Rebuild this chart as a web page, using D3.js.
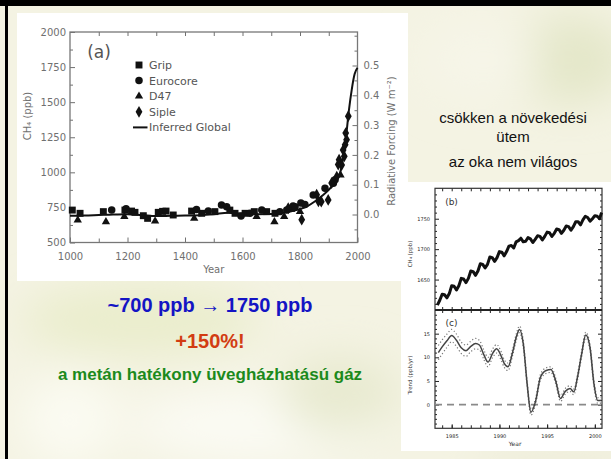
<!DOCTYPE html>
<html><head><meta charset="utf-8">
<script src="https://cdn.jsdelivr.net/npm/d3@7"></script>
<style>html,body{margin:0;padding:0;background:#f3f2e1;} svg{display:block;}</style>
</head><body><svg id="c" width="611" height="459"></svg>
<script>
// ---------------- DATA ----------------
// Panel (a): ice-core CH4 (ppb) by year
const gripYears = [1008,1035,1116,1191,1214,1226,1255,1270,1307,1322,1334,1359,1423,1458,1504,1556,1574,1609,1641,1684,1713,1771];
const gripCH4   = [731,708,720,731,724,715,691,672,715,722,724,696,724,708,720,731,708,708,720,720,708,743];
const euroYears = [1145,1195,1440,1481,1527,1545,1595,1626,1667,1730,1754,1776,1783,1803,1817,1846,1887,1916,1922];
const euroCH4   = [731,740,735,724,767,755,689,708,731,720,731,760,755,781,770,838,886,922,948];
const d47Years  = [1027,1125,1189,1296,1432,1649,1711,1745,1800,1941];
const d47CH4    = [660,648,684,653,672,684,648,684,720,981];
const sipleYears = [1759,1806,1858,1864,1874,1898,1910,1928,1933,1936,1945,1950,1954,1957,1959,1962,1968];
const sipleCH4   = [744,663,841,794,791,803,924,969,1055,1090,1052,1159,1114,1197,1280,1233,1400];
const globalYears = [1000,1050,1100,1150,1200,1250,1300,1350,1400,1450,1500,1550,1600,1650,1700,1750,1800,1825,1850,1875,1900,1920,1940,1950,1960,1970,1980,1990,2000];
const globalCH4   = [690,692,696,700,702,695,688,690,692,695,702,712,705,702,703,715,738,758,790,830,875,925,1000,1100,1250,1440,1590,1700,1745];
const legendLabels = ["Grip","Eurocore","D47","Siple","Inferred Global"];
const aYTicks = [500,750,1000,1250,1500,1750,2000];
const aXTicks = [1000,1200,1400,1600,1800,2000];
const rfTicks = [0,0.1,0.2,0.3,0.4,0.5];

// Panel (b): atmospheric CH4 (ppb), quarterly
const bYears = [1983.5,1983.75,1984,1984.25,1984.5,1984.75,1985,1985.25,1985.5,1985.75,1986,1986.25,1986.5,1986.75,1987,1987.25,1987.5,1987.75,1988,1988.25,1988.5,1988.75,1989,1989.25,1989.5,1989.75,1990,1990.25,1990.5,1990.75,1991,1991.25,1991.5,1991.75,1992,1992.25,1992.5,1992.75,1993,1993.25,1993.5,1993.75,1994,1994.25,1994.5,1994.75,1995,1995.25,1995.5,1995.75,1996,1996.25,1996.5,1996.75,1997,1997.25,1997.5,1997.75,1998,1998.25,1998.5,1998.75,1999,1999.25,1999.5,1999.75,2000,2000.25,2000.5,2000.7];
const bCH4 = [1608,1616,1626,1625,1620,1627,1640,1639,1633,1640,1652,1651,1645,1652,1664,1663,1657,1664,1676,1675,1669,1675,1687,1686,1680,1686,1696,1695,1689,1696,1705,1706,1702,1712,1714,1718,1712,1713,1719,1717,1711,1716,1722,1721,1715,1721,1728,1727,1721,1726,1733,1732,1726,1731,1738,1737,1731,1737,1745,1745,1740,1748,1754,1752,1746,1750,1755,1754,1750,1760];
const bYTicks = [1650,1700,1750];

// Panel (c): growth-rate trend (ppb/yr) with uncertainty
const cYears = [1983.6,1984.0,1984.5,1985.0,1985.5,1986.0,1986.5,1987.0,1987.5,1987.9,1988.4,1988.8,1989.3,1989.7,1990.2,1990.5,1990.9,1991.4,1991.8,1992.1,1992.5,1992.9,1993.3,1993.8,1994.3,1994.9,1995.4,1995.9,1996.4,1996.9,1997.4,1997.8,1998.2,1998.6,1999.05,1999.5,1999.9,2000.3,2000.65];
const cTrend = [11.0,12.2,13.5,14.6,13.6,12.0,11.4,12.3,12.9,12.6,10.4,9.0,10.9,11.8,10.2,8.7,8.0,11.2,14.5,15.9,12.9,4.5,-1.6,0.8,5.8,7.2,7.4,5.0,1.3,2.8,3.4,2.7,6.0,10.5,14.7,12.0,4.5,0.9,0.9];
const cUnc = [1.5,1.5,1.4,1.3,1.3,1.2,1.2,1.1,1.1,1.0,1.0,1.0,0.9,0.9,0.9,0.8,0.8,0.7,0.7,0.7,0.7,0.6,0.6,0.6,0.6,0.6,0.6,0.6,0.6,0.6,0.6,0.6,0.6,0.6,0.6,0.6,0.6,0.6,0.6];
const cYTicks = [0,5,10,15];
const bcXTicks = [1985,1990,1995,2000];

// Slide texts
const sideText = ["csökken a növekedési","ütem","az oka nem világos"];
const mainText = ["~700 ppb \u2192 1750 ppb","+150%!","a metán hatékony üvegházhatású gáz"];

// ---------------- DRAW ----------------
const svg = d3.select("#c");
const defs = svg.append("defs");
defs.append("filter").attr("id","blur").attr("x","-50%").attr("y","-50%").attr("width","200%").attr("height","200%")
  .append("feGaussianBlur").attr("stdDeviation",22);

svg.append("rect").attr("width",611).attr("height",459).attr("fill","#f4f3e3");
const blobs = svg.append("g").attr("filter","url(#blur)");
[[570,60,60,45,"#e4e7c9"],[140,320,120,35,"#eaedcc"],[260,425,130,35,"#fbfbf4"],[70,420,50,45,"#fbfbf2"],[340,395,60,40,"#e8ead0"],[560,470,90,30,"#efeedb"],[480,60,60,40,"#f6f5e8"]]
  .forEach(b => blobs.append("ellipse").attr("cx",b[0]).attr("cy",b[1]).attr("rx",b[2]).attr("ry",b[3]).attr("fill",b[4]));

// white image areas
svg.append("rect").attr("x",17).attr("y",13).attr("width",391).attr("height",268).attr("fill","#ffffff");
svg.append("rect").attr("x",401).attr("y",182).attr("width",210).attr("height",269).attr("fill","#ffffff");

// black frame
svg.append("rect").attr("x",0).attr("y",0).attr("width",611).attr("height",6).attr("fill","#000");
svg.append("rect").attr("x",5).attr("y",0).attr("width",3).attr("height",459).attr("fill","#000");

const FA = "DejaVu Sans, Verdana, sans-serif";
function styleAxis(g, color, fs, font){
  g.select(".domain").remove();
  g.attr("font-family", font).attr("font-size", fs);
  g.selectAll("line").attr("stroke", color).attr("stroke-width", 1);
  g.selectAll("text").attr("fill", color);
  return g;
}

// ---- Panel (a)
const xA = d3.scaleLinear().domain([1000,2000]).range([70,357.5]);
const yA = d3.scaleLinear().domain([500,2000]).range([242.5,32]);
const yRF = d3.scaleLinear().domain([0,0.5]).range([214.5,65.5]);
const gA = svg.append("g");
const axC = "#707070";
gA.append("g").attr("transform","translate(70,0)").call(d3.axisLeft(yA).tickValues(aYTicks).tickSize(-5).tickPadding(4).tickFormat(d3.format("d"))).call(g=>styleAxis(g,axC,10,FA));
gA.append("g").attr("transform","translate(70,0)").call(d3.axisLeft(yA).tickValues([625,875,1125,1375,1625,1875]).tickSize(-3).tickFormat("")).call(g=>styleAxis(g,axC,10,FA));
gA.append("g").attr("transform","translate(0,242.5)").call(d3.axisBottom(xA).tickValues(aXTicks).tickSize(-5).tickPadding(10).tickFormat(d3.format("d"))).call(g=>styleAxis(g,axC,10,FA));
gA.append("g").attr("transform","translate(0,242.5)").call(d3.axisBottom(xA).tickValues([1100,1300,1500,1700,1900]).tickSize(-4).tickFormat("")).call(g=>styleAxis(g,axC,10,FA));
gA.append("g").attr("transform","translate(0,32)").call(d3.axisTop(xA).tickValues([1100,1200,1300,1400,1500,1600,1700,1800,1900]).tickSize(-4).tickFormat("")).call(g=>styleAxis(g,axC,10,FA));
gA.append("g").attr("transform","translate(357.5,0)").call(d3.axisRight(yRF).tickValues(rfTicks).tickSize(-5).tickPadding(6).tickFormat(d3.format(".1f"))).call(g=>styleAxis(g,axC,10,FA));
gA.append("g").attr("transform","translate(357.5,0)").call(d3.axisRight(yRF).tickValues([-0.05,0.05,0.15,0.25,0.35,0.45,0.55,0.6]).tickSize(-3).tickFormat("")).call(g=>styleAxis(g,axC,10,FA));
gA.append("rect").attr("x",70).attr("y",32).attr("width",287.5).attr("height",210.5).attr("fill","none").attr("stroke","#777").attr("stroke-width",1.3);

gA.append("text").attr("x",213.75).attr("y",273).attr("text-anchor","middle").attr("font-family",FA).attr("font-size",10).attr("fill",axC).text("Year");
gA.append("text").attr("transform","translate(31,116) rotate(-90)").attr("text-anchor","middle").attr("font-family",FA).attr("font-size",10).attr("fill",axC).text("CH\u2084 (ppb)");
gA.append("text").attr("transform","translate(395,141) rotate(-90)").attr("text-anchor","middle").attr("font-family",FA).attr("font-size",10).attr("fill",axC).text("Radiative Forcing (W m\u207B\u00B2)");
gA.append("text").attr("x",99).attr("y",58).attr("text-anchor","middle").attr("font-family",FA).attr("font-size",17).attr("fill","#555").text("(a)");

const lineA = d3.line().x((d,i)=>xA(globalYears[i])).y(d=>yA(d)).curve(d3.curveMonotoneX);
gA.append("path").datum(globalCH4).attr("d",lineA).attr("fill","none").attr("stroke","#111").attr("stroke-width",2);

const symSq = d3.symbol().type(d3.symbolSquare).size(48);
const symCi = d3.symbol().type(d3.symbolCircle).size(44);
const symTr = d3.symbol().type(d3.symbolTriangle).size(30);
const symDi = d3.symbol().type(d3.symbolDiamond).size(40);
function pts(years, vals, sym){
  gA.append("g").selectAll("path").data(vals).join("path")
    .attr("transform",(d,i)=>`translate(${xA(years[i])},${yA(d)})`).attr("d",sym).attr("fill","#111");
}
pts(gripYears,gripCH4,symSq);
pts(euroYears,euroCH4,symCi);
pts(d47Years,d47CH4,symTr);
pts(sipleYears,sipleCH4,symDi);

// legend
const leg = gA.append("g").attr("font-family",FA).attr("font-size",11).attr("fill","#555");
const legSyms = [symSq,symCi,symTr,symDi];
legendLabels.forEach((lab,i)=>{
  const y = 65 + i*15.6;
  if(i<4) leg.append("path").attr("transform",`translate(139,${y})`).attr("d",legSyms[i]).attr("fill","#111");
  else leg.append("line").attr("x1",133).attr("x2",147.5).attr("y1",y).attr("y2",y).attr("stroke","#111").attr("stroke-width",2);
  leg.append("text").attr("x",149).attr("y",y+4).text(lab);
});

// ---- Panels (b) and (c)
const xB = d3.scaleLinear().domain([1983.25,2000.75]).range([435,602]);
const yB = d3.scaleLinear().domain([1600,1800]).range([310,188.3]);
const yC = d3.scaleLinear().domain([-5,20]).range([428.3,310]);
const gB = svg.append("g");
const bc = "#222";
const yrs = [1984,1985,1986,1987,1988,1989,1990,1991,1992,1993,1994,1995,1996,1997,1998,1999,2000];
gB.append("g").attr("transform","translate(0,188.3)").call(d3.axisTop(xB).tickValues(yrs).tickSize(-3).tickFormat("")).call(g=>styleAxis(g,bc,5,FA));
gB.append("g").attr("transform","translate(0,310)").call(d3.axisBottom(xB).tickValues(yrs).tickSize(-3).tickFormat("")).call(g=>styleAxis(g,bc,5,FA));
gB.append("g").attr("transform","translate(0,310)").call(d3.axisTop(xB).tickValues(yrs).tickSize(-3).tickFormat("")).call(g=>styleAxis(g,bc,5,FA));
gB.append("g").attr("transform","translate(0,428.3)").call(d3.axisBottom(xB).tickValues(yrs).tickSize(-3).tickFormat("")).call(g=>styleAxis(g,bc,5,FA));
gB.append("g").attr("transform","translate(0,428.3)").call(d3.axisBottom(xB).tickValues(bcXTicks).tickSize(-4).tickPadding(6).tickFormat(d3.format("d"))).call(g=>styleAxis(g,bc,5,FA));
const bMinor = [1610,1620,1630,1640,1660,1670,1680,1690,1710,1720,1730,1740,1760,1770,1780,1790];
gB.append("g").attr("transform","translate(435,0)").call(d3.axisLeft(yB).tickValues(bYTicks).tickSize(-4).tickPadding(5).tickFormat(d3.format("d"))).call(g=>styleAxis(g,bc,5,FA));
gB.append("g").attr("transform","translate(435,0)").call(d3.axisLeft(yB).tickValues(bMinor).tickSize(-2).tickFormat("")).call(g=>styleAxis(g,bc,5,FA));
gB.append("g").attr("transform","translate(602,0)").call(d3.axisRight(yB).tickValues(bYTicks).tickSize(-4).tickFormat("")).call(g=>styleAxis(g,bc,5,FA));
gB.append("g").attr("transform","translate(602,0)").call(d3.axisRight(yB).tickValues(bMinor).tickSize(-2).tickFormat("")).call(g=>styleAxis(g,bc,5,FA));
const cMinor = [-4,-3,-2,-1,1,2,3,4,6,7,8,9,11,12,13,14,16,17,18,19];
gB.append("g").attr("transform","translate(435,0)").call(d3.axisLeft(yC).tickValues(cYTicks).tickSize(-4).tickPadding(5).tickFormat(d3.format("d"))).call(g=>styleAxis(g,bc,5,FA));
gB.append("g").attr("transform","translate(435,0)").call(d3.axisLeft(yC).tickValues(cMinor).tickSize(-2).tickFormat("")).call(g=>styleAxis(g,bc,5,FA));
gB.append("g").attr("transform","translate(602,0)").call(d3.axisRight(yC).tickValues(cYTicks).tickSize(-4).tickFormat("")).call(g=>styleAxis(g,bc,5,FA));
gB.append("g").attr("transform","translate(602,0)").call(d3.axisRight(yC).tickValues(cMinor).tickSize(-2).tickFormat("")).call(g=>styleAxis(g,bc,5,FA));

gB.append("rect").attr("x",435).attr("y",188.3).attr("width",167).attr("height",240).attr("fill","none").attr("stroke","#333").attr("stroke-width",1.2);
gB.append("line").attr("x1",435).attr("x2",602).attr("y1",310).attr("y2",310).attr("stroke","#222").attr("stroke-width",2);

// zero dashed line
gB.append("line").attr("x1",xB(1983.25)).attr("x2",xB(2000.75)).attr("y1",yC(0)).attr("y2",yC(0)).attr("stroke","#8a8a8a").attr("stroke-width",1.6).attr("stroke-dasharray","7,5");

// panel b line
const lineB = d3.line().x((d,i)=>xB(bYears[i])).y(d=>yB(d));
gB.append("path").datum(bCH4).attr("d",lineB).attr("fill","none").attr("stroke","#111").attr("stroke-width",3).attr("stroke-linejoin","round");

// panel c lines
const lineC = d3.line().x((d,i)=>xB(cYears[i])).y(d=>yC(d)).curve(d3.curveMonotoneX);
const up = cTrend.map((v,i)=>v+cUnc[i]);
const lo = cTrend.map((v,i)=>v-cUnc[i]);
gB.append("path").datum(up).attr("d",lineC).attr("fill","none").attr("stroke","#777").attr("stroke-width",1.2).attr("stroke-dasharray","1.2,2.2");
gB.append("path").datum(lo).attr("d",lineC).attr("fill","none").attr("stroke","#777").attr("stroke-width",1.2).attr("stroke-dasharray","1.2,2.2");
gB.append("path").datum(cTrend).attr("d",lineC).attr("fill","none").attr("stroke","#444").attr("stroke-width",1.5);

gB.append("text").attr("x",451.5).attr("y",205).attr("text-anchor","middle").attr("font-family",FA).attr("font-size",9).attr("fill","#333").text("(b)");
gB.append("text").attr("x",451.5).attr("y",326).attr("text-anchor","middle").attr("font-family",FA).attr("font-size",9).attr("fill","#333").text("(c)");
gB.append("text").attr("transform","translate(412,254) rotate(-90)").attr("text-anchor","middle").attr("font-family",FA).attr("font-size",5.5).attr("fill","#333").text("CH\u2084 (ppb)");
gB.append("text").attr("transform","translate(412,375) rotate(-90)").attr("text-anchor","middle").attr("font-family",FA).attr("font-size",5.5).attr("fill","#333").text("Trend (ppb/yr)");
gB.append("text").attr("x",515).attr("y",446).attr("text-anchor","middle").attr("font-family",FA).attr("font-size",6).attr("fill","#333").text("Year");

// ---- slide texts
const FS = "Liberation Sans, Arial, sans-serif";
const side = svg.append("g").attr("font-family",FS).attr("font-size",15).attr("fill","#111").attr("text-anchor","middle");
[123,141.7,167].forEach((y,i)=> side.append("text").attr("x",513).attr("y",y).text(sideText[i]));

const main = svg.append("g").attr("font-family",FS).attr("font-weight","bold").attr("text-anchor","middle");
main.append("text").attr("x",210).attr("y",311.5).attr("font-size",20).attr("fill","#1414c4").text(mainText[0]);
main.append("text").attr("x",210).attr("y",348).attr("font-size",20).attr("fill","#d23c12").text(mainText[1]);
main.append("text").attr("x",210).attr("y",380).attr("font-size",17).attr("fill","#1c8a1c").text(mainText[2]);
</script>
</body></html>
